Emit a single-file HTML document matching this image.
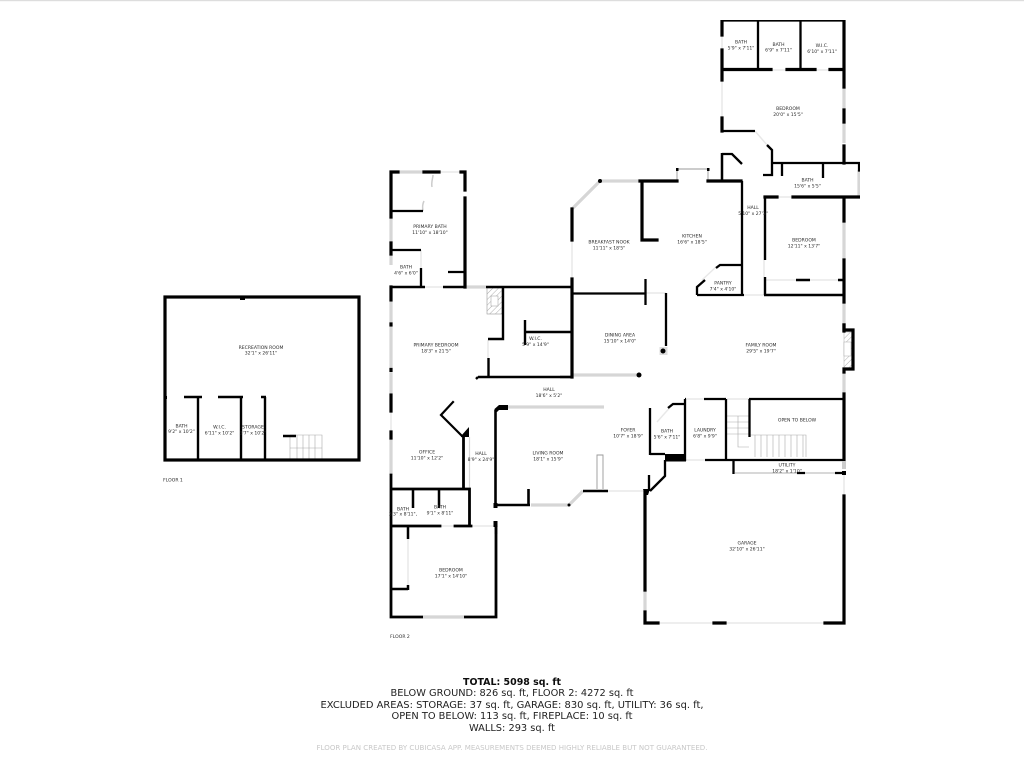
<!DOCTYPE html>
<html><head><meta charset="utf-8"><title>Floor plan</title>
<style>
html,body{margin:0;padding:0;background:#fff;width:1024px;height:768px;overflow:hidden}
svg{display:block}
.w{fill:none;stroke:#000;stroke-width:3.2;stroke-linecap:square;stroke-linejoin:miter}
.t{fill:none;stroke:#000;stroke-width:2.3;stroke-linecap:butt}
.g{fill:none;stroke:#d6d6d6;stroke-width:3.2}
.gi{fill:#fff;stroke:#999;stroke-width:.9}
.l{fill:none;stroke:#e8e8e8;stroke-width:1.5}
.s{fill:none;stroke:#aaa;stroke-width:.6}
text{font-family:"DejaVu Sans","Liberation Sans",sans-serif}
.r text{font-size:4.55px;fill:#2a2a2a;text-anchor:middle}
.b text{font-size:9.5px;fill:#222;text-anchor:middle}
</style></head><body>
<svg width="1024" height="768" viewBox="0 0 1024 768" xmlns="http://www.w3.org/2000/svg">
<defs><filter id="bl" x="0" y="0" width="100%" height="100%"><feGaussianBlur stdDeviation="0.3"/></filter>
<pattern id="h" width="4" height="4" patternUnits="userSpaceOnUse" patternTransform="rotate(45)"><line x1="0" y1="0" x2="0" y2="4" stroke="#999" stroke-width=".8"/></pattern></defs>
<rect x="0" y="0" width="1024" height="1.2" fill="#ddd"/>
<g filter="url(#bl)">
<!-- windows / doors -->
<path class="g" d="M844 87V110M844 122V143M844 221V260M844 302V324M844 372V393M391 217V243M391 254V265M391 302V323M391 327V368M391 373V393M391 438V475M399 172H423M466 287H486M423 617H464M645 590V612M496 526V534M859 170V197"/>
<path class="g" d="M600 181H640M600 181L572 209M531 505H569M569 505L583 491M508 407H604M573 375H640"/>
<path class="l" d="M722 80V118M722 35V50M771 70H787M815 70H830M439 172H461M425 287H443M777 197H793M766 280H796M810 280H838M744 295H764M391 411V431M440 526H455M471 526H494M608 491H645M658 623H714M725 623H825M686 460H705M685 399H704M727 399H749M716 267L702 280M657 422L673 404M755 131L767 145M408 539V585M421 250V268M488 340V358M764 260V277M844 475V495M572 240V277M646 293H666"/>
<path class="l" style="stroke:#d8d8d8;stroke-width:1.2" d="M469.500 437V489"/>
<path class="l" d="M735 473H797M805 473H835" style="stroke:#ccc;stroke-width:1.4"/>
<path class="gi" d="M677 181V169H708V181M597 489V455H603V489"/>
<rect x="676" y="168" width="2.500" height="3" fill="#000"/><rect x="707" y="168" width="2.500" height="3" fill="#000"/>
<path class="s" style="stroke:#ccc;stroke-width:1.5" d="M423 211C422 206 423 203 424 201M432 187C431 182 433 178 433 175"/>
<rect x="487" y="288" width="15" height="26" fill="url(#h)" stroke="#999" stroke-width=".6"/>
<rect x="491" y="296" width="7" height="10" fill="#fff" stroke="#999" stroke-width=".5"/>
<rect x="844" y="332" width="8" height="36" fill="url(#h)" stroke="#aaa" stroke-width=".5"/>
<rect x="844" y="342" width="7" height="14" fill="#fff" stroke="#aaa" stroke-width=".5"/>
<!-- stairs -->
<path class="s" d="M727 416H749M727 422H749M727 428H749M727 434H749M738 416V447H749M749 435H806V457M755 435V457M761 435V457M767 435V457M773 435V457M779 435V457M785 435V457M791 435V457M797 435V457M803 435V457"/>
<path class="s" d="M290 435H322V459M290 435V459M297 435V459M303 435V459M309 435V459M315 435V459M290 448H322"/>
<!-- upper wing -->
<path class="w" d="M722 35V20H844V87M722 50V80M722 118V131M722 69.500H771M787 69.500H815M830 69.500H844"/>
<path class="t" d="M758 20V69M800.500 20V69M722 131H755M767 145L772 150V175H763M722 153V181M722 154H732L742 164M772 163H860M782 163V176M823 163V178"/>
<path class="w" d="M859.500 164V170M844 110V122M844 146V163M765 197H777M793 197H859M844 197V221M844 260V302M844 325V330H853V369H844V372"/>
<path class="t" d="M765 197V260M765 277V295M764 295H844M796 280H810M838 280H844" style="stroke-width:2.400"/>
<!-- kitchen / nook -->
<path class="w" d="M640 181H677M708 181H741M572 209V240M572 279V377M642 181V240H657"/>
<path class="t" d="M722 153V181M742 181V295M697 295H744M697 295V287L705 280M716 268L720 265H742M572 293.500H646M645.500 279V305M666 293V346"/>
<path class="t" d="M560 377H572"/>
<circle cx="600" cy="181" r="2" fill="#000"/>
<rect x="659.500" y="347" width="8" height="8" fill="#ddd"/><circle cx="663" cy="351" r="2.500" fill="#000"/>
<circle cx="639" cy="375" r="2.500" fill="#000"/>
<!-- primary suite -->
<path class="w" d="M391 172V217M391 172H398M424 172H439M461 172H465M465 172V190M465 198V287M391 243V254M391 287V300M391 395V411M391 432V438M391 324V325M391 369.500V370.500"/>
<path class="t" d="M391 211H423M391 250H421M421 268V287M448 272H464"/>
<path class="t" d="M391 287H425M443 287H466M486 287H572M503 287V339H488M488.500 358V377M478 377H572M476 379L478 377M572 287V377M525 320V345M525 332H572" style="stroke-width:2.400"/>
<path class="w" d="M453 402L441 415L462 436" style="stroke-width:2.200"/>
<path d="M461 436L469 427V437H461Z" fill="#000"/>
<path class="w" d="M463.500 437V489M391 475V617H496V525M391 489H469M469.500 489V525M391 526H440M455 526H471" style="stroke-width:2.800"/>
<path class="t" d="M413 489V508M439 489V508M408 527V539M408 585V590M391 589H408" style="stroke-width:2.500"/>
<path class="w" style="stroke-linecap:butt;stroke:#fff;stroke-width:3.500" d="M423 617H464"/>
<path class="g" d="M423 617H464"/>
<!-- living / hall -->
<path class="t" d="M495.500 410V505" style="stroke-width:2.600"/>
<path d="M494.500 412V409L499 405H508V410H499L497 412Z" fill="#000"/>
<rect x="493.500" y="503" width="4" height="5" fill="#000"/><rect x="493.500" y="521" width="4" height="6" fill="#000"/>
<path class="t" d="M495 505H530M528.500 489V505M583 491H608" style="stroke-width:2.600"/>
<circle cx="569" cy="505" r="1.500" fill="#000"/>
<!-- garage -->
<path class="w" d="M645 492V590M645 612V623H658M714 623H725M825 623H844V496M844 394V461M844 331V325"/>
<path class="t" d="M665 460V476L650 491M649 475V491M650 425V455L650 454H665M650 408V425M668 408L673 404H685M685 399V461M685 399H686M704 399H726M726 399V460M749 399H844M749.500 399V437M705 460H844M733.500 460V474M797 473H805M835 473H844"/>
<path d="M643 489L650 489L648 495H645Z" fill="#000"/>
<rect x="665" y="454" width="21" height="7.500" fill="#000"/>
<rect x="842" y="471" width="4" height="4" fill="#000"/>
<rect x="842" y="461" width="4" height="8" fill="#ccc"/>
<!-- recreation room -->
<rect x="165" y="297" width="194" height="163" fill="none" stroke="#000" stroke-width="3.200"/>
<path class="t" d="M184 397H202M218 397H243M261 397H266M198 397V460M241 397V460M265 397V460M283 436H296" style="stroke-width:2.400"/>
<rect x="240" y="298" width="5" height="2" fill="#000"/><rect x="165" y="396" width="2" height="3" fill="#000"/>
<!-- room labels -->
<g class="r">
<text x="741" y="43.500">BATH</text><text x="741" y="49.500">5'9" x 7'11"</text>
<text x="778.500" y="46">BATH</text><text x="778.500" y="51.500">6'9" x 7'11"</text>
<text x="822" y="47">W.I.C.</text><text x="822" y="53">6'10" x 7'11"</text>
<text x="788" y="110">BEDROOM</text><text x="788" y="116">20'0" x 15'5"</text>
<text x="807.500" y="181.500">BATH</text><text x="807.500" y="187.500">15'6" x 5'5"</text>
<text x="753" y="209">HALL</text><text x="753" y="215">5'10" x 27'3"</text>
<text x="804" y="241.500">BEDROOM</text><text x="804" y="247.500">12'11" x 13'7"</text>
<text x="723" y="284.500">PANTRY</text><text x="723" y="290.500">7'4" x 4'10"</text>
<text x="692" y="237.500">KITCHEN</text><text x="692" y="243.500">16'6" x 18'5"</text>
<text x="609" y="243.500">BREAKFAST NOOK</text><text x="609" y="249.500">11'11" x 18'5"</text>
<text x="430" y="228">PRIMARY BATH</text><text x="430" y="234">11'10" x 18'10"</text>
<text x="406" y="268.500">BATH</text><text x="406" y="274.500">4'6" x 6'0"</text>
<text x="436" y="346.500">PRIMARY BEDROOM</text><text x="436" y="352.500">18'3" x 21'5"</text>
<text x="535.500" y="340">W.I.C.</text><text x="535.500" y="346">5'9" x 14'9"</text>
<text x="549" y="391">HALL</text><text x="549" y="397">18'6" x 5'2"</text>
<text x="620" y="336.500">DINING AREA</text><text x="620" y="342.500">15'10" x 14'0"</text>
<text x="761" y="346.500">FAMILY ROOM</text><text x="761" y="352.500">29'5" x 19'7"</text>
<text x="797" y="421.500">OPEN TO BELOW</text>
<text x="628" y="431.500">FOYER</text><text x="628" y="437.500">10'7" x 18'9"</text>
<text x="667" y="432.500">BATH</text><text x="667" y="438.500">5'6" x 7'11"</text>
<text x="705" y="431.500">LAUNDRY</text><text x="705" y="437.500">6'8" x 9'9"</text>
<text x="427" y="453.500">OFFICE</text><text x="427" y="459.500">11'10" x 12'2"</text>
<text x="481" y="455">HALL</text><text x="481" y="461">8'9" x 24'9"</text>
<text x="548" y="454.500">LIVING ROOM</text><text x="548" y="460.500">18'1" x 15'9"</text>
<text x="403" y="510.500">BATH</text><text x="403" y="515.500">3'3" x 8'11",</text>
<text x="440" y="508.500">BATH</text><text x="440" y="514.500">9'1" x 8'11"</text>
<text x="451" y="571.500">BEDROOM</text><text x="451" y="577.500">17'1" x 14'10"</text>
<text x="787" y="466.500">UTILITY</text><text x="787" y="472.500">18'2" x 1'10"</text>
<text x="747" y="544.500">GARAGE</text><text x="747" y="550.500">32'10" x 26'11"</text>
<text x="261" y="349">RECREATION ROOM</text><text x="261" y="354.500">32'1" x 26'11"</text>
<text x="181.500" y="427.500">BATH</text><text x="181.500" y="433">9'2" x 10'2"</text>
<text x="219.500" y="428.500">W.I.C.</text><text x="219.500" y="434.500">6'11" x 10'2"</text>
<text x="253" y="428.500">STORAGE</text><text x="253" y="434.500">3'7" x 10'2"</text>
<text x="400" y="638">FLOOR 2</text>
<text x="173" y="481.500">FLOOR 1</text>
</g>
<!-- summary -->
<g class="b">
<text x="512" y="685" style="font-weight:700;fill:#111" textLength="98" lengthAdjust="spacingAndGlyphs">TOTAL: 5098 sq. ft</text>
<text x="512" y="696" textLength="243" lengthAdjust="spacingAndGlyphs">BELOW GROUND: 826 sq. ft, FLOOR 2: 4272 sq. ft</text>
<text x="512" y="708" textLength="383" lengthAdjust="spacingAndGlyphs">EXCLUDED AREAS: STORAGE: 37 sq. ft, GARAGE: 830 sq. ft, UTILITY: 36 sq. ft,</text>
<text x="512" y="719" textLength="241" lengthAdjust="spacingAndGlyphs">OPEN TO BELOW: 113 sq. ft, FIREPLACE: 10 sq. ft</text>
<text x="512" y="731" textLength="86" lengthAdjust="spacingAndGlyphs">WALLS: 293 sq. ft</text>
<text x="512" y="750" style="font-size:7px;fill:#c8c8c8" textLength="391" lengthAdjust="spacingAndGlyphs">FLOOR PLAN CREATED BY CUBICASA APP. MEASUREMENTS DEEMED HIGHLY RELIABLE BUT NOT GUARANTEED.</text>
</g>
</g>
</svg>
</body></html>
